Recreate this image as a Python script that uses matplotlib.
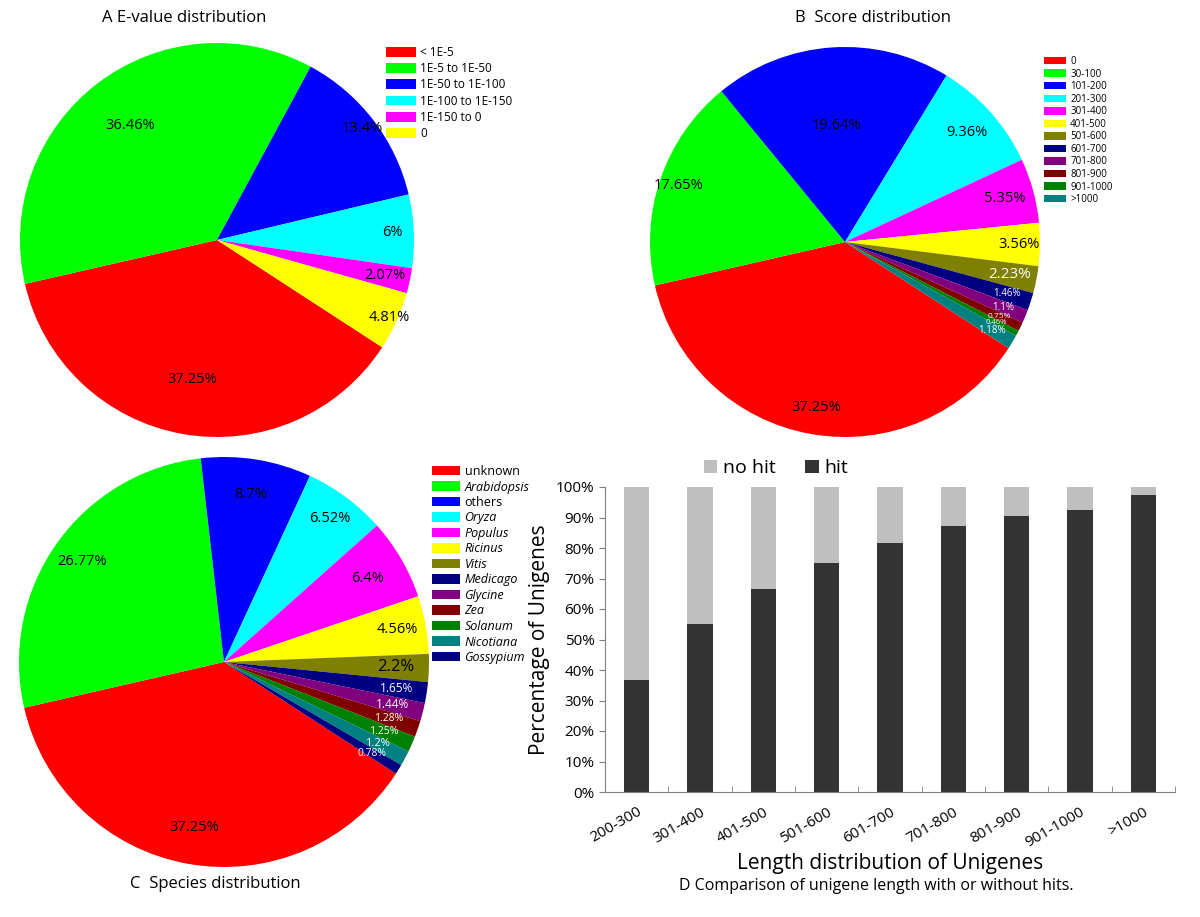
import matplotlib
matplotlib.use('Agg')
import matplotlib.pyplot as plt
import numpy as np
from matplotlib.patches import Patch
from matplotlib.ticker import PercentFormatter, FixedLocator

plt.rcParams['font.family'] = ['Open Sans', 'DejaVu Sans']

# ---- data ----
evalue_labels = ['< 1E-5', '1E-5 to 1E-50', '1E-50 to 1E-100', '1E-100 to 1E-150', '1E-150 to 0', '0']
evalue_pct = [37.25, 36.46, 13.4, 6, 2.07, 4.81]

score_labels = ['0', '30-100', '101-200', '201-300', '301-400', '401-500', '501-600',
                '601-700', '701-800', '801-900', '901-1000', '>1000']
score_pct = [37.25, 17.65, 19.64, 9.36, 5.35, 3.56, 2.23, 1.46, 1.1, 0.75, 0.46, 1.18]

species_labels = ['unknown', 'Arabidopsis', 'others', 'Oryza', 'Populus', 'Ricinus', 'Vitis',
                  'Medicago', 'Glycine', 'Zea', 'Solanum', 'Nicotiana', 'Gossypium']
species_pct = [37.25, 26.77, 8.7, 6.52, 6.4, 4.56, 2.2, 1.65, 1.44, 1.28, 1.25, 1.2, 0.78]

length_bins = ['200-300', '301-400', '401-500', '501-600', '601-700', '701-800',
               '801-900', '901-1000', '>1000']
hit_pct = [36.7, 55.0, 66.6, 75.0, 81.8, 87.2, 90.5, 92.3, 97.5]
nohit_pct = [100 - h for h in hit_pct]

# ---- styles ----
pie_colors = ['#FF0000', '#00FF00', '#0000FF', '#00FFFF', '#FF00FF', '#FFFF00', '#808000',
              '#000080', '#800080', '#800000', '#008000', '#008080', '#000080']

evalue_r = [0.72, 0.73, 0.93, 0.89, 0.87, 0.96]
evalue_fs = [10.5] * 6
evalue_tc = ['black'] * 6

score_r = [0.86, 0.90, 0.60, 0.84, 0.85, 0.89, 0.86, 0.87, 0.88, 0.88, 0.88, 0.88]
score_fs = [10.5, 10.5, 10.5, 10.5, 10.5, 10.5, 11, 7, 7, 6, 5.5, 7]
score_tc = ['black'] * 6 + ['white'] * 6

species_r = [0.82, 0.85, 0.83, 0.87, 0.81, 0.86, 0.84, 0.85, 0.85, 0.85, 0.85, 0.85, 0.85]
species_fs = [10.5] * 6 + [12, 8.5, 8.5, 7.5, 7.5, 8, 7.5]
species_tc = ['black'] * 7 + ['white'] * 6

fig = plt.figure(figsize=(12, 9.17), dpi=100)


def draw_pie(rect, values, colors, label_r, label_fs, label_tc):
    ax = fig.add_axes(rect)
    wedges, _ = ax.pie(values, colors=colors, startangle=327, counterclock=False,
                       wedgeprops=dict(linewidth=0))
    ax.set_xlim(-1, 1)
    ax.set_ylim(-1, 1)
    for w, v, r, fs, tc in zip(wedges, values, label_r, label_fs, label_tc):
        ang = np.deg2rad((w.theta1 + w.theta2) / 2)
        ax.text(r * np.cos(ang), r * np.sin(ang), f'{v:g}%', ha='center', va='center',
                fontsize=fs, color=tc)
    return ax


def pie_legend(labels, colors, anchor, fs, hl, hh, ls):
    handles = [Patch(facecolor=c, edgecolor='none') for c in colors[:len(labels)]]
    return fig.legend(handles, labels, loc='upper left', bbox_to_anchor=anchor, frameon=False,
                      fontsize=fs, handlelength=hl, handleheight=hh, labelspacing=ls,
                      handletextpad=0.4, borderpad=0, borderaxespad=0)


# A: E-value
draw_pie([20 / 1200, 1 - 437 / 917, 394 / 1200, 394 / 917], evalue_pct, pie_colors,
         evalue_r, evalue_fs, evalue_tc)
pie_legend(evalue_labels, pie_colors, (386 / 1200, 1 - 46 / 917), 8.5, 2.5, 0.9, 0.27)
fig.text(184 / 1200, 1 - 18 / 917, 'A E-value distribution', ha='center', va='center', fontsize=12)

# B: score
draw_pie([650 / 1200, 1 - 437 / 917, 390 / 1200, 390 / 917], score_pct, pie_colors,
         score_r, score_fs, score_tc)
pie_legend(score_labels, pie_colors, (1044 / 1200, 1 - 56 / 917), 7, 2.3, 0.8, 0.16)
fig.text(873 / 1200, 1 - 18 / 917, 'B  Score distribution', ha='center', va='center', fontsize=12)

# C: species
draw_pie([19 / 1200, 1 - 867 / 917, 410 / 1200, 410 / 917], species_pct, pie_colors,
         species_r, species_fs, species_tc)
leg = pie_legend(species_labels, pie_colors, (432 / 1200, 1 - 465 / 917), 9, 2.2, 0.8, 0.2)
for t in leg.get_texts():
    if t.get_text() not in ('unknown', 'others'):
        t.set_fontstyle('italic')
fig.text(215 / 1200, 1 - 884 / 917, 'C  Species distribution', ha='center', va='center', fontsize=12)

# D: stacked bars
axb = fig.add_axes([605 / 1200, 1 - 792 / 917, 570 / 1200, 305 / 917])
x = np.arange(len(length_bins))
b_nohit = axb.bar(x, nohit_pct, bottom=hit_pct, width=0.4, color='#BFBFBF', label='no hit')
b_hit = axb.bar(x, hit_pct, width=0.4, color='#333333', label='hit')
axb.set_xlim(-0.5, len(length_bins) - 0.5)
axb.set_ylim(0, 100)
axb.set_yticks(np.arange(0, 101, 10))
axb.yaxis.set_major_formatter(PercentFormatter(decimals=0))
axb.set_xticks(x)
axb.set_xticklabels(length_bins, rotation=30, ha='right', rotation_mode='anchor')
axb.xaxis.set_minor_locator(FixedLocator(np.arange(-0.5, len(length_bins), 1)))
axb.tick_params(axis='x', which='major', length=0, labelsize=11, pad=9)
axb.tick_params(axis='x', which='minor', direction='in', length=4, color='#808080')
axb.tick_params(axis='y', length=4, color='#808080', labelsize=11)
for s in ('top', 'right'):
    axb.spines[s].set_visible(False)
for s in ('left', 'bottom'):
    axb.spines[s].set_color('#808080')
axb.set_ylabel('Percentage of Unigenes', fontsize=15)
axb.set_xlabel('Length distribution of Unigenes', fontsize=15, labelpad=2)
axb.legend(handles=[b_nohit, b_hit], ncol=2, loc='lower center', bbox_to_anchor=(0.3, 1.0),
           frameon=False, fontsize=14, handlelength=0.7, handleheight=0.7, handletextpad=0.3,
           columnspacing=1.5, borderaxespad=0.1)
fig.text(876 / 1200, 1 - 886 / 917, 'D Comparison of unigene length with or without hits.',
         ha='center', va='center', fontsize=11.5)

fig.savefig('out.png', dpi=100)
